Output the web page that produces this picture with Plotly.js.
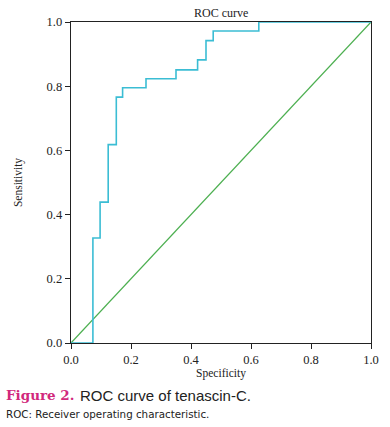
<!DOCTYPE html>
<html>
<head>
<meta charset="utf-8">
<script src="https://cdn.plot.ly/plotly-3.0.1.min.js"></script>
<style>
html,body{margin:0;padding:0;background:#fff;}
#chart{width:390px;height:427px;}
</style>
</head>
<body>
<div id="chart"></div>
<script>
// ROC step points (x = 1 - specificity, labelled "Specificity" in the original)
const rocX = [0, 0.073, 0.073, 0.097, 0.097, 0.124, 0.124, 0.151, 0.151, 0.172, 0.172, 0.25, 0.25, 0.35, 0.35, 0.422, 0.422, 0.45, 0.45, 0.474, 0.474, 0.626, 0.626, 1.0];
const rocY = [0, 0, 0.327, 0.327, 0.439, 0.439, 0.618, 0.618, 0.766, 0.766, 0.795, 0.795, 0.823, 0.823, 0.851, 0.851, 0.882, 0.882, 0.942, 0.942, 0.972, 0.972, 1.0, 1.0];
const refX = [0, 1];
const refY = [0, 1];
const tickVals = [0, 0.2, 0.4, 0.6, 0.8, 1.0];
const tickText = ["0.0", "0.2", "0.4", "0.6", "0.8", "1.0"];

const serif = "Liberation Serif, DejaVu Serif, serif";

const traces = [
  {x: refX, y: refY, mode: "lines", line: {color: "#4caf50", width: 1.2}, hoverinfo: "skip", showlegend: false},
  {x: rocX, y: rocY, mode: "lines", line: {color: "#3bbdd4", width: 1.6}, showlegend: false}
];

const axisCommon = {
  range: [0, 1],
  tickvals: tickVals,
  ticktext: tickText,
  ticks: "outside",
  ticklen: 5,
  tickwidth: 1,
  tickcolor: "#222",
  showline: true,
  linecolor: "#222",
  linewidth: 1.3,
  mirror: true,
  showgrid: false,
  zeroline: false,
  tickfont: {family: serif, size: 12.5, color: "#222"}
};

const layout = {
  width: 390,
  height: 427,
  margin: {l: 71, r: 19, t: 22, b: 84},
  paper_bgcolor: "#fff",
  plot_bgcolor: "#fff",
  xaxis: Object.assign({}, axisCommon, {
    title: {text: "Specificity", font: {family: serif, size: 11.5, color: "#222"}, standoff: 2}
  }),
  yaxis: Object.assign({}, axisCommon, {
    title: {text: "Sensitivity", font: {family: serif, size: 11.5, color: "#222"}, standoff: 21}
  }),
  annotations: [
    {text: "ROC curve", xref: "paper", yref: "paper", x: 0.5, y: 1, yanchor: "bottom", xanchor: "center",
     showarrow: false, yshift: 0, font: {family: serif, size: 12, color: "#222"}},
    {text: "<b>Figure 2.</b>", xref: "paper", yref: "paper", x: -67/300, xanchor: "left", y: -52/321, yanchor: "middle",
     showarrow: false, font: {family: "DejaVu Serif, serif", size: 13.5, color: "#d1287c"}},
    {text: "ROC curve of tenascin-C.", xref: "paper", yref: "paper", x: 7/300, xanchor: "left", y: -52/321, yanchor: "middle",
     showarrow: false, font: {family: "Liberation Sans, Arial, sans-serif", size: 15, color: "#222"}},
    {text: "ROC: Receiver operating characteristic.", xref: "paper", yref: "paper", x: -67/300, xanchor: "left", y: -71/321, yanchor: "middle",
     showarrow: false, font: {family: "DejaVu Sans, sans-serif", size: 10.3, color: "#222"}}
  ]
};

Plotly.newPlot("chart", traces, layout, {displayModeBar: false, staticPlot: true});
</script>
</body>
</html>
